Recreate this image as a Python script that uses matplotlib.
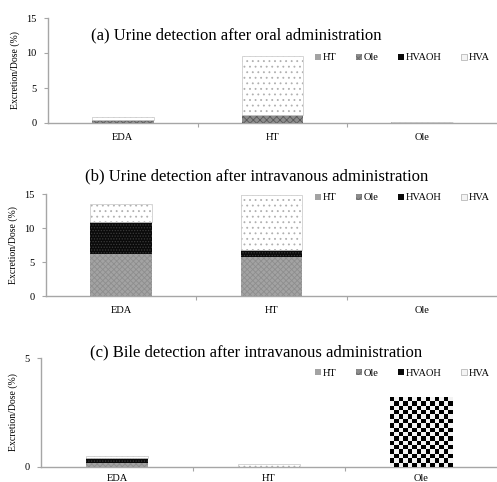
import numpy as np
import matplotlib
matplotlib.use("Agg")
import matplotlib.pyplot as plt
from matplotlib.patches import Patch

plt.rcParams['font.family'] = ['Liberation Serif', 'DejaVu Serif']
plt.rcParams['hatch.linewidth'] = 0.6

categories = ["EDA", "HT", "Ole"]
series = ["HT", "Ole", "HVAOH", "HVA"]

# (a) urine, oral administration
oral_urine = {
    "HT":    [0.0, 0.0, 0.15],
    "Ole":   [0.5, 1.2, 0.0],
    "HVAOH": [0.0, 0.0, 0.0],
    "HVA":   [0.35, 8.35, 0.0],
}
# (b) urine, intravenous administration
iv_urine = {
    "HT":    [6.2, 5.8, 0.0],
    "Ole":   [0.0, 0.0, 0.0],
    "HVAOH": [4.7, 0.9, 0.0],
    "HVA":   [2.7, 8.1, 0.0],
}
# (c) bile, intravenous administration
iv_bile = {
    "HT":    [0.17, 0.0, 0.0],
    "Ole":   [0.0, 0.0, 3.2],
    "HVAOH": [0.23, 0.0, 0.0],
    "HVA":   [0.12, 0.15, 0.0],
}

titles = [
    "(a) Urine detection after oral administration",
    "(b) Urine detection after intravanous administration",
    "(c) Bile detection after intravanous administration",
]
ylims = [15, 15, 5]
yticks = [[0, 5, 10, 15], [0, 5, 10, 15], [0, 5]]

styles = {
    "HT":    dict(face="#a3a3a3", hatch="xxxxxx", hcolor="#8e8e8e"),
    "Ole":   dict(face="#8c8c8c", hatch="xxxxx", hcolor="#5a5a5a"),
    "HVAOH": dict(face="#0a0a0a", hatch="......", hcolor="#3a3a3a"),
    "HVA":   dict(face="#ffffff", hatch="...", hcolor="#b0b0b0"),
}

W, H = 497, 482
fig = plt.figure(figsize=(W / 100, H / 100), dpi=100)

# axes boxes in pixel coordinates: left, bottom(y from top), top(y from top)
boxes = [(48, 123, 18), (46, 296, 194), (41, 467, 358)]
title_y = [35, 176, 352]
title_x = [236, 257, 256]
legend_y = [58, 198, 373]
xlabel_pad = [7, 7, 5]

axis_grey = "#a6a6a6"
x = np.arange(len(categories))
bar_w = 0.41

legend_handles = [
    Patch(facecolor=styles["HT"]["face"], edgecolor="none"),
    Patch(facecolor=styles["Ole"]["face"], edgecolor="#6a6a6a", hatch="xxxx", linewidth=0),
    Patch(facecolor=styles["HVAOH"]["face"], edgecolor="none"),
    Patch(facecolor="#f4f4f4", edgecolor="#b8b8b8", linewidth=0.6),
]

for k, (data, title) in enumerate(zip([oral_urine, iv_urine, iv_bile], titles)):
    l, b, t = boxes[k]
    ax = fig.add_axes([l / W, 1 - b / H, (W - l) / W, (b - t) / H])
    bottom = np.zeros(len(categories))
    for s in series:
        vals = np.array(data[s], dtype=float)
        st = styles[s]
        bars = ax.bar(x, vals, bar_w, bottom=bottom, color=st["face"],
                      edgecolor="none", linewidth=0, zorder=2)
        ax.bar(x, vals, bar_w, bottom=bottom, facecolor="none",
               edgecolor=st["hcolor"], hatch=st["hatch"], linewidth=0, zorder=3)
        if s == "HVA":
            ax.bar(x, vals, bar_w, bottom=bottom, facecolor="none",
                   edgecolor="#cfcfcf", linewidth=0.6, zorder=4)
        # bile Ole bar: checkerboard fill
        if k == 2 and s == "Ole":
            for rect in bars:
                hgt = rect.get_height()
                if hgt <= 0:
                    continue
                x0, w = rect.get_x(), rect.get_width()
                y0 = rect.get_y()
                nx = 14
                ny = int(round(nx * (hgt / 5 * 109) / (w * 149.5)))
                ii, jj = np.indices((ny, nx))
                checker = ((ii + jj) % 2).astype(float)
                ax.imshow(checker, cmap="gray", extent=(x0, x0 + w, y0, y0 + hgt),
                          interpolation="nearest", aspect="auto", zorder=5,
                          vmin=0, vmax=1.05)
        bottom += vals

    ax.set_xlim(-0.5, 2.5)
    ax.set_ylim(0, ylims[k])
    ax.set_yticks(yticks[k])
    ax.set_xticks(x)
    ax.set_xticklabels(categories)
    ax.set_xticks([0.5, 1.5], minor=True)
    ax.tick_params(axis="x", which="major", length=0, pad=xlabel_pad[k], labelsize=7.5)
    ax.tick_params(axis="x", which="minor", length=3, color=axis_grey, width=0.8)
    ax.tick_params(axis="y", length=3, color=axis_grey, width=0.8, pad=5, labelsize=7.5)
    for sp in ["top", "right"]:
        ax.spines[sp].set_visible(False)
    for sp in ["left", "bottom"]:
        ax.spines[sp].set_color(axis_grey)
        ax.spines[sp].set_linewidth(1.0)
    ax.set_ylabel("Excretion/Dose (%)", fontsize=7, labelpad=5)

    fig.text(title_x[k] / W, 1 - title_y[k] / H, title, fontsize=12.0,
             ha="center", va="center")

    ax.legend(legend_handles, series, ncol=4, frameon=False, fontsize=7.5,
              loc="center left", bbox_to_anchor=(315 / W, 1 - legend_y[k] / H),
              bbox_transform=fig.transFigure, handlelength=0.6,
              handleheight=0.6, handletextpad=0.15, columnspacing=1.85,
              borderpad=0, borderaxespad=0)

fig.savefig("out.png", dpi=100)
